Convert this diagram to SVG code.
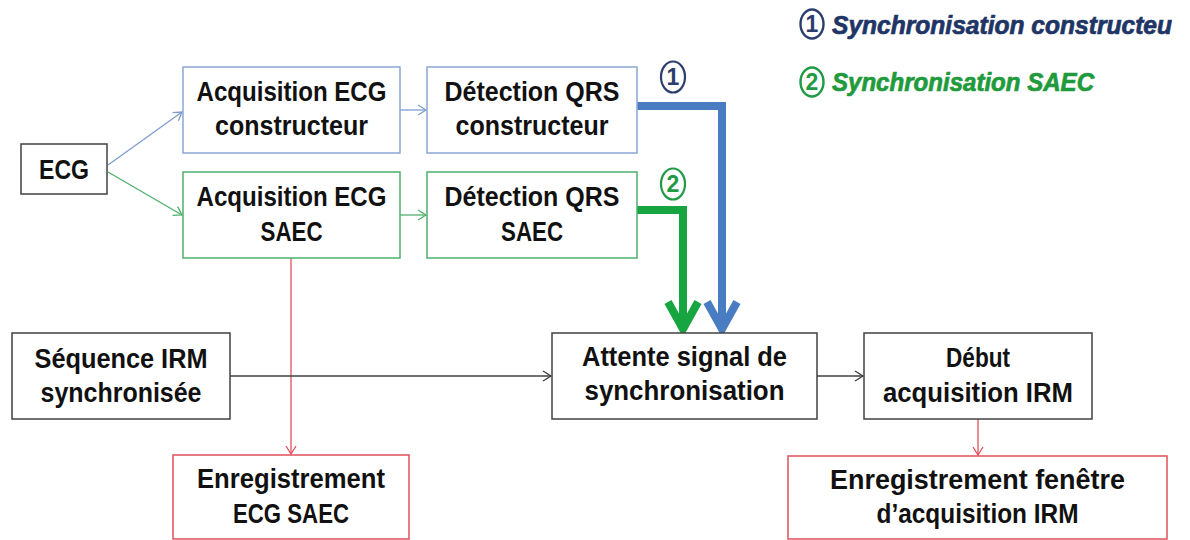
<svg xmlns="http://www.w3.org/2000/svg" width="1190" height="540" viewBox="0 0 1190 540">
<style>
.box{fill:#fff;stroke-width:1.5}
.k{stroke:#404040}
.b{stroke:#8aa6d4}
.g{stroke:#4fb06c}
.r{stroke:#e0505c}
.t{font-family:"Liberation Sans",Arial,sans-serif;font-weight:bold;font-size:27px;fill:#111;text-anchor:middle}
.leg{font-family:"Liberation Sans",Arial,sans-serif;font-weight:bold;font-style:italic;font-size:25px;stroke-width:0.7}
.num{font-family:"Liberation Sans",Arial,sans-serif;font-weight:bold;font-size:23px;text-anchor:middle}
.thin{fill:none;stroke-width:1.3}
.thick{fill:none;stroke-width:8;stroke-linejoin:miter}
</style>
<defs>
<marker id="ak" markerWidth="12" markerHeight="12" refX="10" refY="6" orient="auto" markerUnits="userSpaceOnUse"><path d="M2,1 L10,6 L2,11" fill="none" stroke="#404040" stroke-width="1.3"/></marker>
<marker id="ab" markerWidth="12" markerHeight="12" refX="10" refY="6" orient="auto" markerUnits="userSpaceOnUse"><path d="M2,1 L10,6 L2,11" fill="none" stroke="#7e9ccf" stroke-width="1.3"/></marker>
<marker id="ag" markerWidth="12" markerHeight="12" refX="10" refY="6" orient="auto" markerUnits="userSpaceOnUse"><path d="M2,1 L10,6 L2,11" fill="none" stroke="#4fb06c" stroke-width="1.3"/></marker>
<marker id="ar" markerWidth="12" markerHeight="12" refX="10" refY="6" orient="auto" markerUnits="userSpaceOnUse"><path d="M2,1 L10,6 L2,11" fill="none" stroke="#e0505c" stroke-width="1.3"/></marker>
</defs>

<g id="legend">
<ellipse cx="812" cy="24" rx="11.5" ry="14.5" fill="#fff" stroke="#2c3e6e" stroke-width="2.4"/>
<text class="num" x="812" y="32" fill="#2c3e6e">1</text>
<text class="leg" x="832" y="34" fill="#1f3566" stroke="#1f3566" textLength="340" lengthAdjust="spacingAndGlyphs">Synchronisation constructeu</text>
<ellipse cx="812" cy="82" rx="11.5" ry="14.5" fill="#fff" stroke="#1f9a45" stroke-width="2.4"/>
<text class="num" x="812" y="90" fill="#1f9a45">2</text>
<text class="leg" x="832" y="91" fill="#1f9a3c" stroke="#1f9a3c" textLength="262" lengthAdjust="spacingAndGlyphs">Synchronisation SAEC</text>
</g>

<g id="connectors">
<line class="thin" x1="108" y1="165" x2="182" y2="112" stroke="#7e9ccf" marker-end="url(#ab)"/>
<line class="thin" x1="108" y1="172" x2="182" y2="215" stroke="#4fb06c" marker-end="url(#ag)"/>
<line class="thin" x1="400" y1="110" x2="426" y2="110" stroke="#7e9ccf" marker-end="url(#ab)"/>
<line class="thin" x1="400" y1="215" x2="426" y2="215" stroke="#4fb06c" marker-end="url(#ag)"/>
<line class="thin" x1="291" y1="258" x2="291" y2="454" stroke="#e0505c" marker-end="url(#ar)"/>
<line class="thin" x1="230" y1="376" x2="551" y2="376" stroke="#404040" marker-end="url(#ak)"/>
<line class="thin" x1="817" y1="376" x2="863" y2="376" stroke="#404040" marker-end="url(#ak)"/>
<line class="thin" x1="978" y1="419" x2="978" y2="455" stroke="#e0505c" marker-end="url(#ar)"/>
<path class="thick" d="M637,106 H722 V328" stroke="#4a7cc2"/>
<path class="thick" d="M707,302 L722,329 L737,302" stroke="#4a7cc2"/>
<path class="thick" d="M637,210 H683 V328" stroke="#16a540"/>
<path class="thick" d="M668,302 L683,329 L698,302" stroke="#16a540"/>
<ellipse cx="673" cy="77" rx="12" ry="15.5" fill="#fff" stroke="#2c3e6e" stroke-width="2.2"/>
<text class="num" x="673" y="85" fill="#2c3e6e">1</text>
<ellipse cx="673" cy="184" rx="12" ry="15.5" fill="#fff" stroke="#1f9a45" stroke-width="2.2"/>
<text class="num" x="673" y="192" fill="#1f9a45">2</text>
</g>

<g id="ecg">
<rect class="box k" x="21" y="144" width="86" height="50"/>
<text class="t" x="64" y="179" textLength="50" lengthAdjust="spacingAndGlyphs">ECG</text>
</g>
<g id="acq-constructeur">
<rect class="box b" x="183" y="67" width="217" height="86"/>
<text class="t" x="291.5" y="101" textLength="190" lengthAdjust="spacingAndGlyphs">Acquisition ECG</text>
<text class="t" x="291.5" y="135" textLength="153" lengthAdjust="spacingAndGlyphs">constructeur</text>
</g>
<g id="acq-saec">
<rect class="box g" x="183" y="172" width="217" height="86"/>
<text class="t" x="291.5" y="206" textLength="190" lengthAdjust="spacingAndGlyphs">Acquisition ECG</text>
<text class="t" x="291.5" y="241" textLength="62" lengthAdjust="spacingAndGlyphs">SAEC</text>
</g>
<g id="qrs-constructeur">
<rect class="box b" x="427" y="67" width="210" height="86"/>
<text class="t" x="532" y="101" textLength="175" lengthAdjust="spacingAndGlyphs">Détection QRS</text>
<text class="t" x="532" y="135" textLength="153" lengthAdjust="spacingAndGlyphs">constructeur</text>
</g>
<g id="qrs-saec">
<rect class="box g" x="427" y="172" width="210" height="86"/>
<text class="t" x="532" y="206" textLength="175" lengthAdjust="spacingAndGlyphs">Détection QRS</text>
<text class="t" x="532" y="241" textLength="62" lengthAdjust="spacingAndGlyphs">SAEC</text>
</g>
<g id="sequence-irm">
<rect class="box k" x="12" y="333" width="218" height="86"/>
<text class="t" x="121" y="368" textLength="173" lengthAdjust="spacingAndGlyphs">Séquence IRM</text>
<text class="t" x="121" y="402" textLength="161" lengthAdjust="spacingAndGlyphs">synchronisée</text>
</g>
<g id="attente">
<rect class="box k" x="552" y="333" width="265" height="86"/>
<text class="t" x="684.5" y="366" textLength="205" lengthAdjust="spacingAndGlyphs">Attente signal de</text>
<text class="t" x="684.5" y="400" textLength="200" lengthAdjust="spacingAndGlyphs">synchronisation</text>
</g>
<g id="debut">
<rect class="box k" x="864" y="333" width="228" height="86"/>
<text class="t" x="978" y="367" textLength="64" lengthAdjust="spacingAndGlyphs">Début</text>
<text class="t" x="978" y="402" textLength="190" lengthAdjust="spacingAndGlyphs">acquisition IRM</text>
</g>
<g id="enr-ecg">
<rect class="box r" x="173" y="455" width="236" height="84"/>
<text class="t" x="291" y="488" textLength="188" lengthAdjust="spacingAndGlyphs">Enregistrement</text>
<text class="t" x="291" y="523" textLength="116" lengthAdjust="spacingAndGlyphs">ECG SAEC</text>
</g>
<g id="enr-fenetre">
<rect class="box r" x="788" y="456" width="379" height="83"/>
<text class="t" x="977.5" y="489" textLength="295" lengthAdjust="spacingAndGlyphs">Enregistrement fenêtre</text>
<text class="t" x="977.5" y="523" textLength="202" lengthAdjust="spacingAndGlyphs">d’acquisition IRM</text>
</g>
</svg>
